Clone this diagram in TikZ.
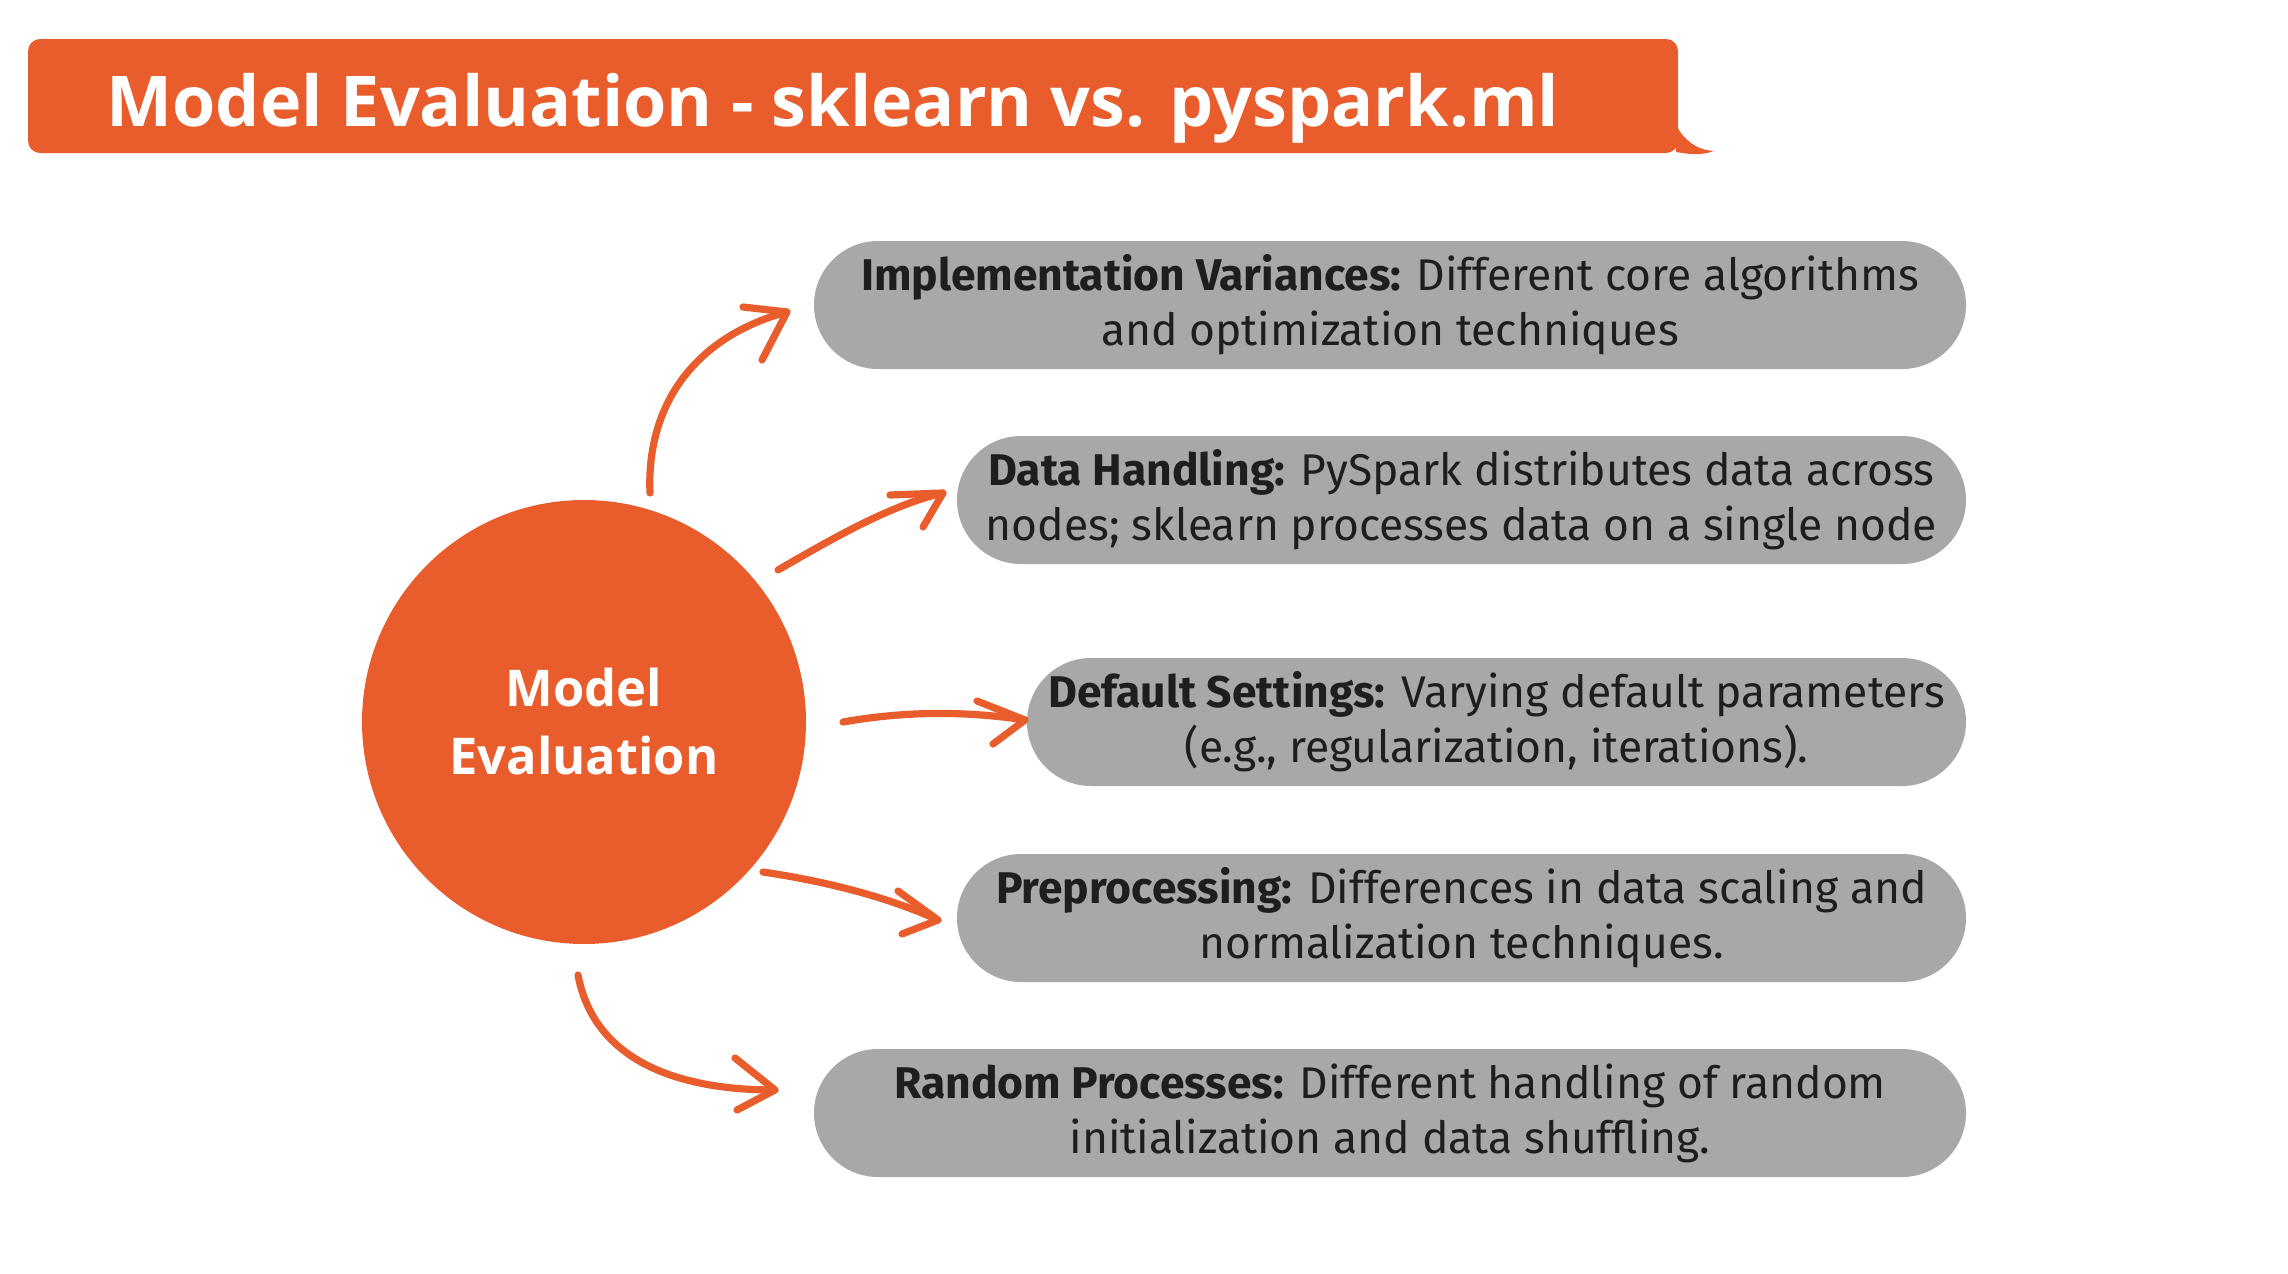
\documentclass[tikz,border=0pt]{standalone}
\usepackage{fontspec}
\setmainfont{Fira Sans}
\newfontfamily\titlefont{Open Sans}
\definecolor{orng}{HTML}{E95D2C}
\definecolor{gbox}{HTML}{A8A8A8}
\definecolor{txt}{HTML}{1E1E1E}
\begin{document}
\begin{tikzpicture}[x=0.5pt,y=-0.5pt,
  pill/.style={fill=gbox,rounded corners=32pt,minimum height=64pt,inner sep=0pt,
    align=center,text=txt,font=\fontsize{22.2}{27.5}\selectfont},
  harrow/.style={draw=orng,line width=3.6pt,line cap=round,line join=round}]
\useasboundingbox (0,0) rectangle (2288,1274);
% title bar
\fill[orng,rounded corners=6pt] (28,39) rectangle (1678,153);
\fill[orng] (1676,125) .. controls (1684,140) and (1696,150) .. (1714,151)
  .. controls (1700,156) and (1688,154) .. (1676,152) -- cycle;
\node[anchor=base west,inner sep=0pt,text=white,font=\titlefont\bfseries\fontsize{35}{40}\selectfont]
  (title) at (106,126) {Model Evaluation - sklearn vs. pyspark.ml};
% center circle
\node[circle,fill=orng,minimum size=222pt,inner sep=0pt,text=white,align=center,
  font=\titlefont\bfseries\fontsize{25.3}{34}\selectfont] (me) at (584,722) {Model\\Evaluation};
% boxes
\node[pill,minimum width=576pt] (b1) at (1390,305)
  {\textbf{Implementation Variances:} Different core algorithms\\and optimization techniques};
\node[pill,minimum width=504.5pt] (b2) at (1461.5,500)
  {\textbf{Data Handling:} PySpark distributes data across\\nodes; sklearn processes data on a single node};
\node[pill,minimum width=469.5pt] (b3) at (1496.5,722)
  {\textbf{Default Settings:} Varying default parameters\\(e.g., regularization, iterations).};
\node[pill,minimum width=504.5pt] (b4) at (1461.5,918)
  {\textbf{Preprocessing:} Differences in data scaling and\\normalization techniques.};
\node[pill,minimum width=576pt] (b5) at (1390,1113)
  {\textbf{Random Processes:} Different handling of random\\initialization and data shuffling.};
% arrow coordinates
\coordinate (s1) at (650,493); \coordinate (t1) at (787,312);
\coordinate (s2) at (778,570); \coordinate (t2) at (943,493);
\coordinate (s3) at (843,722); \coordinate (t3) at (1025,720);
\coordinate (s4) at (763,872); \coordinate (t4) at (938,920);
\coordinate (s5) at (578,975); \coordinate (t5) at (775,1090);
% arrows
\draw[harrow] (s1) .. controls (646,400) and (700,335) .. (t1);
\draw[harrow] (743,307) -- (t1) -- (762,360);
\draw[harrow] (s2) .. controls (830,540) and (890,505) .. (t2);
\draw[harrow] (890,495) -- (t2) -- (923,527);
\draw[harrow] (s3) .. controls (900,712) and (960,710) .. (t3);
\draw[harrow] (977,701) -- (t3) -- (993,744);
\draw[harrow] (s4) .. controls (830,882) and (890,898) .. (t4);
\draw[harrow] (898,891) -- (t4) -- (902,934);
\draw[harrow] (s5) .. controls (592,1050) and (660,1090) .. (t5);
\draw[harrow] (735,1058) -- (t5) -- (737,1110);
\end{tikzpicture}
\end{document}
